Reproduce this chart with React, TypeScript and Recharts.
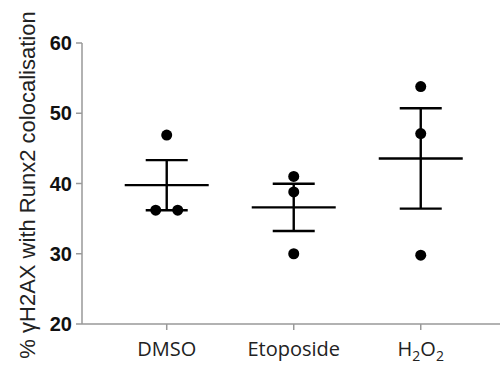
import { ScatterChart, Scatter, XAxis, YAxis, ErrorBar } from "recharts";

const categories = ["DMSO", "Etoposide", "H2O2"];
const dmsoValues = [46.9, 36.2, 36.2];
const etoposideValues = [41.0, 38.8, 30.0];
const h2o2Values = [53.8, 47.1, 29.8];
const yTicks = [20, 30, 40, 50, 60];
const yLabel = "% γH2AX with Runx2 colocalisation";

const groups = [dmsoValues, etoposideValues, h2o2Values];

// individual points; tied values get spread sideways a little
const points = groups.flatMap((vals, i) =>
  vals.map((v, j) => {
    const same = vals.filter((w) => w === v).length;
    const rank = vals.slice(0, j).filter((w) => w === v).length;
    return { x: i + 1, y: v, shift: same > 1 ? (rank - (same - 1) / 2) * 22 : 0 };
  })
);

// mean +/- SEM per group
const summary = groups.map((vals, i) => {
  const n = vals.length;
  const mean = vals.reduce((a, b) => a + b, 0) / n;
  const sd = Math.sqrt(vals.reduce((a, b) => a + (b - mean) ** 2, 0) / (n - 1));
  return { x: i + 1, y: mean, sem: sd / Math.sqrt(n) };
});

const axisColor = "#999";

const Dot = (props: any) => (
  <circle cx={props.cx + (props.payload?.shift ?? 0)} cy={props.cy} r={5.5} fill="#000" />
);

const MeanLine = (props: any) => (
  <line x1={props.cx - 42} x2={props.cx + 42} y1={props.cy} y2={props.cy} stroke="#000" strokeWidth={2.4} />
);

const XTick = (props: any) => {
  const { x, y, payload } = props;
  const name = categories[payload.value - 1];
  const common = {
    x,
    y: y + 24,
    textAnchor: "middle" as const,
    fontFamily: "'Open Sans', sans-serif",
    fontSize: 20,
    fill: "#222",
  };
  if (name === "H2O2") {
    return (
      <text {...common}>
        <tspan>H</tspan>
        <tspan dy={5} fontSize={14}>2</tspan>
        <tspan dy={-5}>O</tspan>
        <tspan dy={5} fontSize={14}>2</tspan>
      </text>
    );
  }
  return <text {...common}>{name}</text>;
};

const YTitle = () => (
  <text
    x={27}
    y={185}
    transform="rotate(-90, 27, 185)"
    textAnchor="middle"
    dominantBaseline="central"
    fontFamily="'Liberation Sans', Arial, sans-serif"
    fontSize={22}
    fill="#222"
  >
    {yLabel}
  </text>
);

export default function App() {
  return (
    <div style={{ position: "absolute", left: 0, top: 0, background: "#fff" }}>
      <ScatterChart width={500} height={368} margin={{ top: 43, right: 0, bottom: 0, left: 0 }}>
        <XAxis
          type="number"
          dataKey="x"
          domain={[0.333, 3.624]}
          ticks={[1, 2, 3]}
          tick={<XTick />}
          height={44}
          tickSize={6}
          stroke={axisColor}
          strokeWidth={1.5}
          allowDataOverflow
        />
        <YAxis
          type="number"
          dataKey="y"
          domain={[20, 60]}
          ticks={yTicks}
          width={82}
          tickSize={6}
          tickMargin={4}
          stroke={axisColor}
          strokeWidth={1.5}
          tick={{
            fill: "#111",
            fontSize: 20,
            fontWeight: "bold",
            fontFamily: "'Liberation Sans', Arial, sans-serif",
          }}
          label={<YTitle />}
        />
        <Scatter data={summary} shape={<MeanLine />} isAnimationActive={false}>
          <ErrorBar
            dataKey="sem"
            direction="y"
            width={21}
            stroke="#000"
            strokeWidth={2.4}
            isAnimationActive={false}
          />
        </Scatter>
        <Scatter data={points} shape={<Dot />} isAnimationActive={false} />
      </ScatterChart>
    </div>
  );
}
